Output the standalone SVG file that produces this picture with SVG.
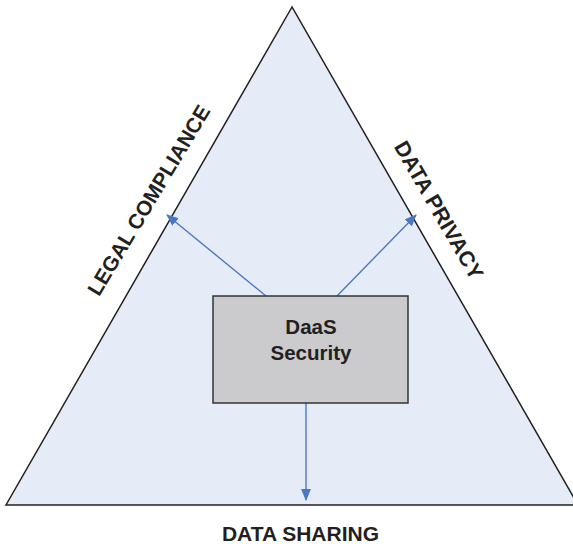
<svg xmlns="http://www.w3.org/2000/svg" width="573" height="544" viewBox="0 0 573 544">
<style>
.lbl{font-family:"Liberation Sans",Arial,sans-serif;font-weight:bold;font-size:21px;fill:#231f20;text-anchor:middle}
.conn{stroke:#4a78c2;stroke-width:1.4;fill:none}
</style>
<defs>
<marker id="ah" markerUnits="userSpaceOnUse" markerWidth="12" markerHeight="10" refX="11" refY="5" orient="auto">
<path d="M0,0 L12,5 L0,10 Z" fill="#4a78c2"/>
</marker>
</defs>
<rect width="573" height="544" fill="#ffffff"/>
<g id="triangle">
<polygon points="292,7 6,505 578,505" fill="#e6ecf7" stroke="#231f20" stroke-width="1.5" stroke-linejoin="miter"/>
</g>
<g id="legal-compliance">
<text class="lbl" transform="translate(155,204) rotate(-59)">LEGAL COMPLIANCE</text>
</g>
<g id="data-privacy">
<text class="lbl" style="font-size:21.5px" transform="translate(432.5,214) rotate(60)">DATA PRIVACY</text>
</g>
<g id="data-sharing">
<text class="lbl" x="300.5" y="541">DATA SHARING</text>
</g>
<g id="connectors">
<line class="conn" x1="266" y1="296" x2="167" y2="215" marker-end="url(#ah)"/>
<line class="conn" x1="337" y1="296" x2="416" y2="215" marker-end="url(#ah)"/>
<line class="conn" x1="306" y1="403" x2="306" y2="500" marker-end="url(#ah)"/>
</g>
<g id="daas-security">
<rect x="213" y="296" width="195" height="107" fill="#cbcbcd" stroke="#333333" stroke-width="1.5"/>
<text class="lbl" style="font-size:20.5px" x="311" y="334">DaaS</text>
<text class="lbl" style="font-size:20.5px" x="311" y="360">Security</text>
</g>
</svg>
